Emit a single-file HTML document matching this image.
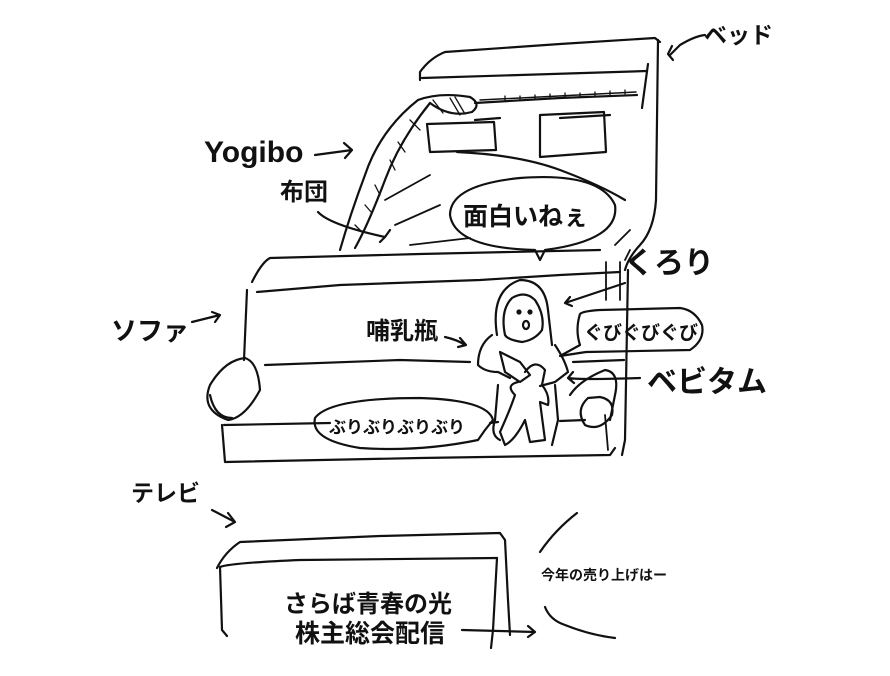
<!DOCTYPE html>
<html><head><meta charset="utf-8"><style>
html,body{margin:0;padding:0;background:#fff}
svg{display:block}
text{font-family:"Liberation Sans","Noto Sans CJK JP",sans-serif;font-weight:bold;fill:#111}
</style></head><body>
<svg width="890" height="676" viewBox="0 0 890 676" xmlns="http://www.w3.org/2000/svg">
<g fill="none" stroke="#111" stroke-width="2.2" stroke-linecap="round" stroke-linejoin="round">
<!-- Bed -->
<path d="M420,80 L420,72 Q430,58 445,52 L560,44 L655,38 L660,42"/>
<path d="M658,40 L656,200 Q654,230 640,245 Q628,258 625,270"/>
<path d="M648,64 L642,108"/>
<path d="M422,78 L520,75 L647,71"/>
<path d="M475,103 L560,98 L637,95"/>
<path d="M480,100 L636,92" stroke-width="1.5"/>
<path d="M505,100v-4M520,100v-4M535,99v-4M550,98v-4M565,97v-4M580,97v-4M595,96v-4M610,95v-4M625,94v-4" stroke-width="1.3"/>
<path d="M475,120 L500,118 M560,118 L610,115"/>
<path d="M427,124 L494,122 L496,150 L430,152 Z"/>
<path d="M540,115 L604,112 L606,152 L540,157 Z"/>
<path d="M457,152 Q520,155 560,170 Q600,185 625,200"/>
<path d="M385,200 L430,175 M395,225 L440,205 M410,245 L470,238 M615,245 L630,230 M625,260 L630,250" stroke-width="1.8"/>
<!-- Yogibo -->
<path d="M418,100 Q380,130 365,175 Q350,215 340,250"/>
<path d="M430,103 Q400,140 385,180 Q368,225 355,248"/>
<path d="M418,100 Q440,92 470,97 Q482,104 472,112 Q450,118 430,103"/>
<path d="M433,100 L443,113 M450,98 L460,115 M455,97 L465,114" stroke-width="1.3"/>
<path d="M410,120 L420,130 M398,142 L405,152 M390,160 L395,170 M375,185 L380,195 M365,205 L372,213 M355,225 L362,232" stroke-width="1.3"/>
<path d="M318,212 Q330,225 385,237 L390,230 M385,237 L380,242"/>
<!-- Sofa -->
<path d="M252,282 Q262,262 270,258 L420,254 L600,250"/>
<path d="M257,292 L340,285 L480,280 L560,275 L620,272"/>
<path d="M247,290 L244,360"/>
<path d="M265,365 L400,360 L470,362"/>
<path d="M573,362 L624,360"/>
<path d="M606,262 L606,300 M620,262 L620,300" stroke-width="1.8"/>
<path d="M245,358 Q225,360 210,385 Q200,410 228,420 Q245,418 260,390 Q258,362 245,358"/>
<path d="M210,395 Q215,418 232,418" />
<path d="M224,425 L330,423"/>
<path d="M490,423 L498,422 M560,421 L585,420"/>
<path d="M222,425 L225,462 L420,458 L610,455 L615,448"/>
<path d="M628,270 L625,440 L622,455"/>
<path d="M570,395 Q580,380 605,370 Q620,372 615,395 L610,420"/>
<path d="M588,398 Q575,410 585,425 Q600,432 612,415 Q615,400 600,397 Z"/>
<path d="M605,415 L608,450" stroke-width="1.8"/>
<!-- person -->
<path d="M497,335 Q490,290 520,280 Q545,280 548,310 L552,345"/>
<path d="M505,335 Q500,310 512,298 Q525,290 535,300 Q545,315 542,330 Q535,340 522,342 Q508,340 505,335"/>
<circle cx="519" cy="312" r="1.5" fill="#111"/><circle cx="530" cy="312" r="1.5" fill="#111"/>
<ellipse cx="526" cy="325" rx="3" ry="4"/>
<path d="M492,335 Q478,345 478,365 Q485,372 498,372 L510,378"/>
<path d="M555,345 Q565,360 568,372 L555,382 L540,386"/>
<path d="M500,352 L520,362 L530,375 L520,382 L505,372 Z"/>
<path d="M525,372 Q535,358 545,370 L542,385 Q550,395 548,405 L540,402 L545,440 L530,442 L525,420 Q515,440 505,445 L500,432 Q510,410 515,395 Q505,385 518,382"/>
<path d="M498,385 L495,420 Q490,435 500,440"/>
<path d="M555,385 L558,420 L552,445" />
<!-- bubbles -->
<path d="M535,250 Q455,248 450,215 Q450,185 520,178 Q600,172 615,205 Q620,240 545,250 L540,260 Z"/>
<path d="M580,314 Q575,330 580,345 L560,356 L586,352 L690,350 Q705,340 702,325 Q695,310 680,308 L600,310 Q583,311 580,314 Z"/>
<path d="M485,430 L493,420 Q488,400 420,398 Q330,398 315,418 Q310,440 360,448 Q420,452 478,440 L485,430"/>
<!-- arrows -->
<path d="M315,155 L352,150 M344,143 L352,150 L345,158"/>
<path d="M565,303 L625,283 M570,297 L565,303 L572,306" />
<path d="M192,322 L220,315 M212,312 L220,315 L215,322"/>
<path d="M445,337 Q458,340 465,345 M460,338 L466,345 L458,347"/>
<path d="M568,378 Q580,380 640,378 M573,372 L568,378 L574,383"/>
<path d="M670,55 L680,45 Q695,36 705,35"/>
<path d="M673,60 L668,54 L672,46"/>
<path d="M212,510 L235,522 M228,513 L235,522 L226,527"/>
<!-- TV -->
<path d="M217,568 Q225,552 240,542 L380,536 L500,533 L505,540"/>
<path d="M220,567 Q230,563 300,560 L497,558"/>
<path d="M220,567 L222,630 L227,636"/>
<path d="M497,558 L493,630 L491,648"/>
<path d="M505,540 L508,600 L510,635"/>
<path d="M462,630 L535,632 M528,626 L535,632 L528,637"/>
<path d="M540,552 Q555,530 577,513"/>
<path d="M545,607 Q550,620 565,625 Q590,635 615,638"/>
</g>
<g>
<text x="704" y="43" font-size="23">ベッド</text>
<text x="204" y="162" font-size="30">Yogibo</text>
<text x="280" y="200" font-size="24">布団</text>
<text x="463" y="225" font-size="25">面白いねぇ</text>
<text x="624" y="273" font-size="30">くろり</text>
<text x="111" y="340" font-size="26">ソファ</text>
<text x="366" y="339" font-size="24">哺乳瓶</text>
<text x="584" y="339" font-size="19">ぐびぐびぐび</text>
<text x="647" y="392" font-size="30">ベビタム</text>
<text x="329" y="433" font-size="17">ぶりぶりぶりぶり</text>
<text x="131" y="501" font-size="23">テレビ</text>
<text x="541" y="580" font-size="14">今年の売り上げはー</text>
<text x="284" y="612" font-size="24">さらば青春の光</text>
<text x="295" y="642" font-size="25">株主総会配信</text>
</g>
</svg>
</body></html>
